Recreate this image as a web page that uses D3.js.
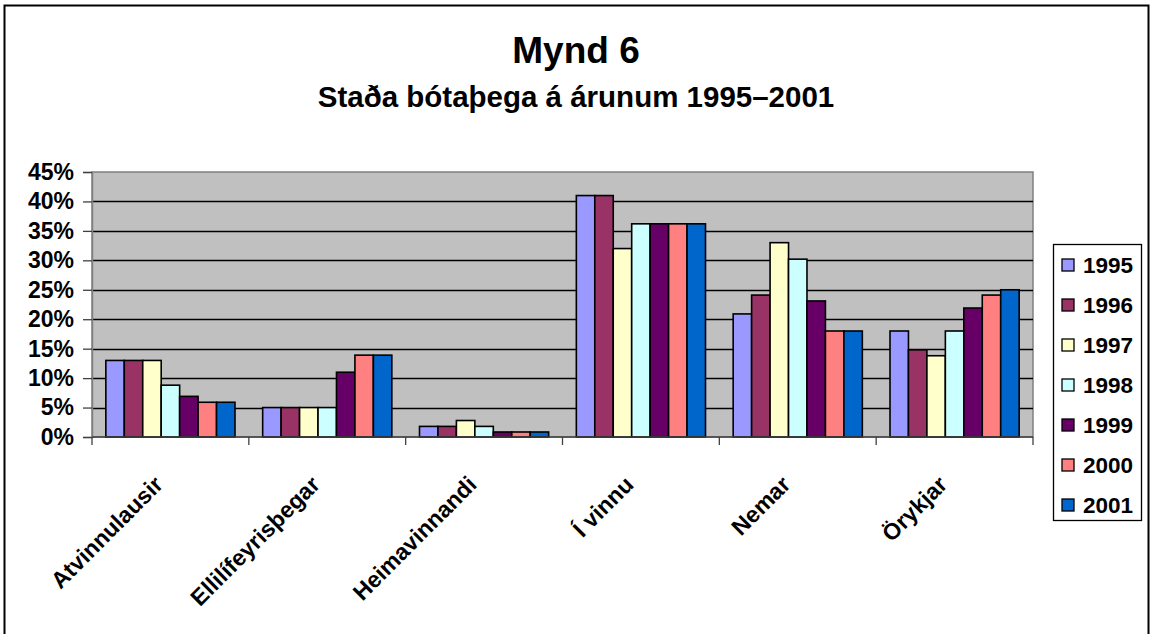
<!DOCTYPE html>
<html lang="is">
<head>
<meta charset="UTF-8">
<title>Mynd 6</title>
<script src="https://d3js.org/d3.v7.min.js"></script>
<style>
  body { margin: 0; background: #fff; }
  svg text { font-family: "Liberation Sans", Arial, sans-serif; font-weight: bold; fill: #000; }
</style>
</head>
<body>
<div id="chart"></div>
<script>
// Data
const categories = ["Atvinnulausir", "Ellilífeyrisþegar", "Heimavinnandi", "Í vinnu", "Nemar", "Örykjar"];
const years = ["1995", "1996", "1997", "1998", "1999", "2000", "2001"];
const v1995 = [13, 5, 1.8, 41, 20.9, 18];
const v1996 = [13, 5, 1.8, 41, 24.1, 14.8];
const v1997 = [13, 5, 2.8, 32, 33, 13.8];
const v1998 = [8.8, 5, 1.8, 36.2, 30.2, 18];
const v1999 = [6.9, 11, 0.85, 36.2, 23.1, 21.9];
const v2000 = [5.9, 13.9, 0.85, 36.2, 18, 24.1];
const v2001 = [5.9, 13.9, 0.85, 36.2, 18, 25];
const yTicks = [0, 5, 10, 15, 20, 25, 30, 35, 40, 45];
const colors = ["#9999FF", "#993366", "#FFFFCC", "#CCFFFF", "#660066", "#FF8080", "#0066CC"];

const series = [v1995, v1996, v1997, v1998, v1999, v2000, v2001];

const width = 1152, height = 634;
const plot = { left: 92, right: 1033, top: 172, bottom: 437 };

const svg = d3.select("#chart").append("svg")
  .attr("width", width)
  .attr("height", height);

// outer chart frame (bottom edge runs off the picture)
svg.append("rect")
  .attr("x", 4.5).attr("y", 5.5)
  .attr("width", 1144).attr("height", 640)
  .attr("fill", "#fff")
  .attr("stroke", "#000")
  .attr("stroke-width", 2);

// titles
svg.append("text")
  .attr("x", 576).attr("y", 63)
  .attr("text-anchor", "middle")
  .style("font-size", "37px")
  .text("Mynd 6");
svg.append("text")
  .attr("x", 576).attr("y", 107)
  .attr("text-anchor", "middle")
  .style("font-size", "29.5px")
  .text("Staða bótaþega á árunum 1995–2001");

const x0 = d3.scaleBand()
  .domain(categories)
  .range([plot.left, plot.right])
  .paddingInner(0)
  .paddingOuter(0);

const x1 = d3.scaleBand()
  .domain(years)
  .range([0, x0.bandwidth()])
  .paddingOuter(0.75)
  .paddingInner(0);

const y = d3.scaleLinear()
  .domain([0, 45])
  .range([plot.bottom, plot.top]);

// plot background
svg.append("rect")
  .attr("x", plot.left).attr("y", plot.top)
  .attr("width", plot.right - plot.left)
  .attr("height", plot.bottom - plot.top)
  .attr("fill", "#C0C0C0")
  .attr("stroke", "#808080")
  .attr("stroke-width", 1.5);

// gridlines
svg.append("g")
  .selectAll("line")
  .data(yTicks.filter(t => t > 0 && t < 45))
  .join("line")
  .attr("x1", plot.left).attr("x2", plot.right)
  .attr("y1", d => Math.round(y(d)) + 0.5)
  .attr("y2", d => Math.round(y(d)) + 0.5)
  .attr("stroke", "#000")
  .attr("stroke-width", 1.3);

// y axis
const yAxis = svg.append("g")
  .attr("transform", `translate(${plot.left},0)`)
  .call(d3.axisLeft(y).tickValues(yTicks).tickFormat(d => d + "%").tickSize(9).tickPadding(9));
yAxis.select(".domain").attr("stroke", "#808080").attr("stroke-width", 1.5);
yAxis.selectAll(".tick line").attr("stroke", "#404040").attr("stroke-width", 1.3);
yAxis.selectAll("text")
  .style("font-size", "23px")
  .style("font-family", "'Liberation Sans', Arial, sans-serif")
  .attr("font-weight", "bold")
  .attr("fill", "#000");

// bars
const groups = svg.append("g")
  .selectAll("g")
  .data(categories)
  .join("g")
  .attr("transform", d => `translate(${x0(d)},0)`);

groups.selectAll("rect")
  .data((c, ci) => years.map((yr, si) => ({ yr, si, v: series[si][ci] })))
  .join("rect")
  .attr("x", d => x1(d.yr))
  .attr("y", d => y(d.v))
  .attr("width", x1.bandwidth())
  .attr("height", d => y(0) - y(d.v))
  .attr("fill", d => colors[d.si])
  .attr("stroke", "#000")
  .attr("stroke-width", 1.6);

// x axis
const xAxis = svg.append("g")
  .attr("transform", `translate(0,${plot.bottom})`);
xAxis.append("line")
  .attr("x1", plot.left).attr("x2", plot.right)
  .attr("y1", 0).attr("y2", 0)
  .attr("stroke", "#404040").attr("stroke-width", 1.5);
xAxis.selectAll(".xtick")
  .data(categories.concat(["end"]))
  .join("line")
  .attr("class", "xtick")
  .attr("x1", (d, i) => plot.left + i * x0.bandwidth())
  .attr("x2", (d, i) => plot.left + i * x0.bandwidth())
  .attr("y1", 0).attr("y2", 8)
  .attr("stroke", "#404040").attr("stroke-width", 1.3);

xAxis.selectAll(".xlabel")
  .data(categories)
  .join("text")
  .attr("class", "xlabel")
  .attr("text-anchor", "end")
  .attr("transform", d => `translate(${x0(d) + x0.bandwidth() / 2 - 6},${49}) rotate(-45)`)
  .style("font-size", "23px")
  .text(d => d);

// legend
const legend = svg.append("g").attr("transform", "translate(1053,244)");
legend.append("rect")
  .attr("x", 0.5).attr("y", 0.5)
  .attr("width", 88).attr("height", 276)
  .attr("fill", "#fff")
  .attr("stroke", "#000")
  .attr("stroke-width", 1.3);

const items = legend.selectAll(".item")
  .data(years)
  .join("g")
  .attr("class", "item")
  .attr("transform", (d, i) => `translate(0,${21 + i * 40})`);
items.append("rect")
  .attr("x", 9).attr("y", -6)
  .attr("width", 12).attr("height", 12)
  .attr("fill", (d, i) => colors[i])
  .attr("stroke", "#000")
  .attr("stroke-width", 1.3);
items.append("text")
  .attr("x", 30).attr("y", 8)
  .style("font-size", "22.5px")
  .text(d => d);
</script>
</body>
</html>
